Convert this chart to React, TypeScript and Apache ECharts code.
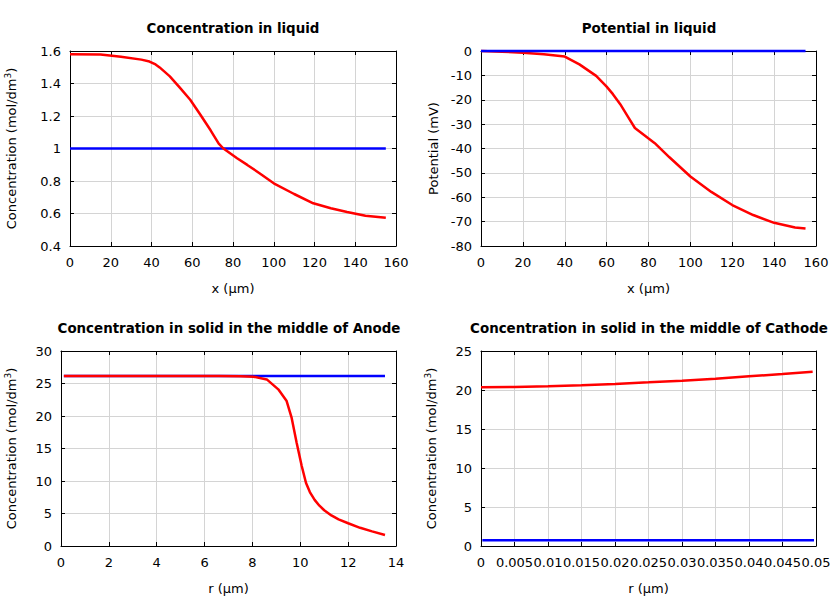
import React, { useEffect, useRef } from "react";
import * as echarts from "echarts";

// Plot 1: Concentration in liquid
const liqX = [0, 15, 25, 35, 39, 42, 44, 49, 54, 59, 64, 69, 73, 75.3, 82, 87, 93, 100, 110, 119.4, 128, 136, 145, 155];
const liqConcRed = [1.58, 1.578, 1.565, 1.547, 1.535, 1.517, 1.499, 1.444, 1.373, 1.3, 1.208, 1.112, 1.03, 1.0, 0.94, 0.899, 0.848, 0.786, 0.72, 0.663, 0.632, 0.609, 0.586, 0.574];
const liqConcBlueX = [0, 155];
const liqConcBlue = [1.0, 1.0];

// Plot 2: Potential in liquid
const potX = [0, 10, 20, 30, 40, 47, 55, 60, 63, 66.5, 70, 73.5, 83, 90, 100, 110, 120, 130, 140, 150, 155];
const potRed = [0, -0.3, -0.7, -1.3, -2.3, -5.5, -10.2, -14.6, -17.7, -21.8, -26.7, -31.6, -37.8, -43.6, -51.5, -57.8, -63.2, -67.3, -70.5, -72.4, -72.8];
const potBlueX = [0, 155];
const potBlue = [0, 0];

// Plot 3: Concentration in solid, middle of Anode
const anodeR = [0.12, 2, 4, 6, 6.6, 7.5, 8.04, 8.6, 9.08, 9.43, 9.64, 9.85, 10.06, 10.24, 10.4, 10.6, 10.8, 11.0, 11.3, 11.6, 12.0, 12.5, 13.0, 13.54];
const anodeRed = [26.14, 26.14, 26.14, 26.14, 26.14, 26.12, 26.05, 25.63, 24.1, 22.3, 19.7, 15.85, 12.3, 9.7, 8.3, 7.1, 6.2, 5.5, 4.7, 4.1, 3.5, 2.8, 2.25, 1.7];
const anodeBlueR = [0.12, 13.54];
const anodeBlue = [26.14, 26.14];

// Plot 4: Concentration in solid, middle of Cathode
const cathR = [0, 0.005, 0.01, 0.015, 0.02, 0.025, 0.03, 0.035, 0.04, 0.045, 0.0495];
const cathRed = [20.35, 20.4, 20.47, 20.6, 20.78, 20.98, 21.2, 21.45, 21.75, 22.05, 22.35];
const cathBlueR = [0.0002, 0.0497];
const cathBlue = [0.73, 0.73];

const titles = [
  "Concentration in liquid",
  "Potential in liquid",
  "Concentration in solid in the middle of Anode",
  "Concentration in solid in the middle of Cathode",
];
const xNames = ["x (µm)", "x (µm)", "r (µm)", "r (µm)"];
const yNames = [
  "Concentration (mol/dm{sup|3})",
  "Potential (mV)",
  "Concentration (mol/dm{sup|3})",
  "Concentration (mol/dm{sup|3})",
];
const xRanges = [[0, 160, 20], [0, 160, 20], [0, 14, 2], [0, 0.05, 0.005]];
const yRanges = [[0.4, 1.6, 0.2], [-80, 0, 10], [0, 30, 5], [0, 25, 5]];

const zip = (xs: number[], ys: number[]) => xs.map((x, i) => [x, ys[i]]);

const FONT = "DejaVu Sans";

export default function App() {
  const ref = useRef<HTMLDivElement>(null);
  useEffect(() => {
    if (!ref.current) return;
    const chart = echarts.init(ref.current, undefined, { renderer: "svg" });
    const grids = [
      { left: 70, top: 51, width: 326, height: 195 },
      { left: 481, top: 51, width: 335, height: 195 },
      { left: 61, top: 351, width: 335, height: 195 },
      { left: 481, top: 351, width: 335, height: 195 },
    ];
    const nameGapsY = [50, 41, 41, 41];
    const xAxis: any[] = [];
    const yAxis: any[] = [];
    grids.forEach((g, i) => {
      const [xmin, xmax, xint] = xRanges[i];
      const [ymin, ymax, yint] = yRanges[i];
      xAxis.push({
        type: "value", gridIndex: i, min: xmin, max: xmax, interval: xint, position: "bottom",
        name: xNames[i], nameLocation: "middle", nameGap: 36,
        nameTextStyle: { fontFamily: FONT, fontSize: 13, color: "#000" },
        axisLine: { show: true, onZero: false, lineStyle: { color: "#000", width: 1 } },
        axisTick: { show: true, inside: true, length: 4, lineStyle: { color: "#000" } },
        axisLabel: { fontFamily: FONT, fontSize: 13, color: "#000", margin: 10, showMinLabel: true, showMaxLabel: true, hideOverlap: false },
        splitLine: { show: true, lineStyle: { color: "#d4d4d4", width: 1 } },
      });
      xAxis.push({
        type: "value", gridIndex: i, min: xmin, max: xmax, interval: xint, position: "top",
        axisLine: { show: true, onZero: false, lineStyle: { color: "#000", width: 1 } },
        axisTick: { show: true, inside: true, length: 4, lineStyle: { color: "#000" } },
        axisLabel: { show: false },
        splitLine: { show: false },
      });
      yAxis.push({
        type: "value", gridIndex: i, min: ymin, max: ymax, interval: yint, position: "left",
        name: yNames[i], nameLocation: "middle", nameGap: nameGapsY[i], nameRotate: 90,
        nameTextStyle: {
          fontFamily: FONT, fontSize: 13, color: "#000",
          rich: {
            sup: { fontFamily: FONT, fontSize: 9, color: "#000", verticalAlign: "top", lineHeight: 17, padding: [0, 0, 6, 0] },
          },
        },
        axisLine: { show: true, onZero: false, lineStyle: { color: "#000", width: 1 } },
        axisTick: { show: true, inside: true, length: 4, lineStyle: { color: "#000" } },
        axisLabel: { fontFamily: FONT, fontSize: 13, color: "#000", margin: 9, showMinLabel: true, showMaxLabel: true },
        splitLine: { show: true, lineStyle: { color: "#d4d4d4", width: 1 } },
      });
      yAxis.push({
        type: "value", gridIndex: i, min: ymin, max: ymax, interval: yint, position: "right",
        axisLine: { show: true, onZero: false, lineStyle: { color: "#000", width: 1 } },
        axisTick: { show: true, inside: true, length: 4, lineStyle: { color: "#000" } },
        axisLabel: { show: false },
        splitLine: { show: false },
      });
    });

    const mk = (gi: number, data: number[][], color: string, z: number) => ({
      type: "line", xAxisIndex: gi * 2, yAxisIndex: gi * 2, data, symbol: "none",
      smooth: false, clip: false, z,
      lineStyle: { color, width: 2.5 },
    });

    const series = [
      mk(0, zip(liqConcBlueX, liqConcBlue), "#0000ff", 2),
      mk(0, zip(liqX, liqConcRed), "#ff0000", 3),
      mk(1, zip(potX, potRed), "#ff0000", 2),
      mk(1, zip(potBlueX, potBlue), "#0000ff", 3),
      mk(2, zip(anodeBlueR, anodeBlue), "#0000ff", 2),
      mk(2, zip(anodeR, anodeRed), "#ff0000", 3),
      mk(3, zip(cathBlueR, cathBlue), "#0000ff", 2),
      mk(3, zip(cathR, cathRed), "#ff0000", 3),
    ];

    const titleCenters = [228, 644, 224, 644];
    const titleTops = [17, 17, 317, 317];

    chart.setOption({
      animation: false,
      backgroundColor: "#fff",
      title: titles.map((t, i) => ({
        text: t, left: titleCenters[i], top: titleTops[i], textAlign: "center",
        textStyle: { fontFamily: FONT, fontSize: 13.4, fontWeight: "bold", color: "#000" },
      })),
      grid: grids.map((g) => ({ ...g, show: false, containLabel: false })),
      xAxis, yAxis, series,
    });
    return () => chart.dispose();
  }, []);
  return <div ref={ref} style={{ position: "fixed", left: 0, top: 0, width: 840, height: 600 }} />;
}
